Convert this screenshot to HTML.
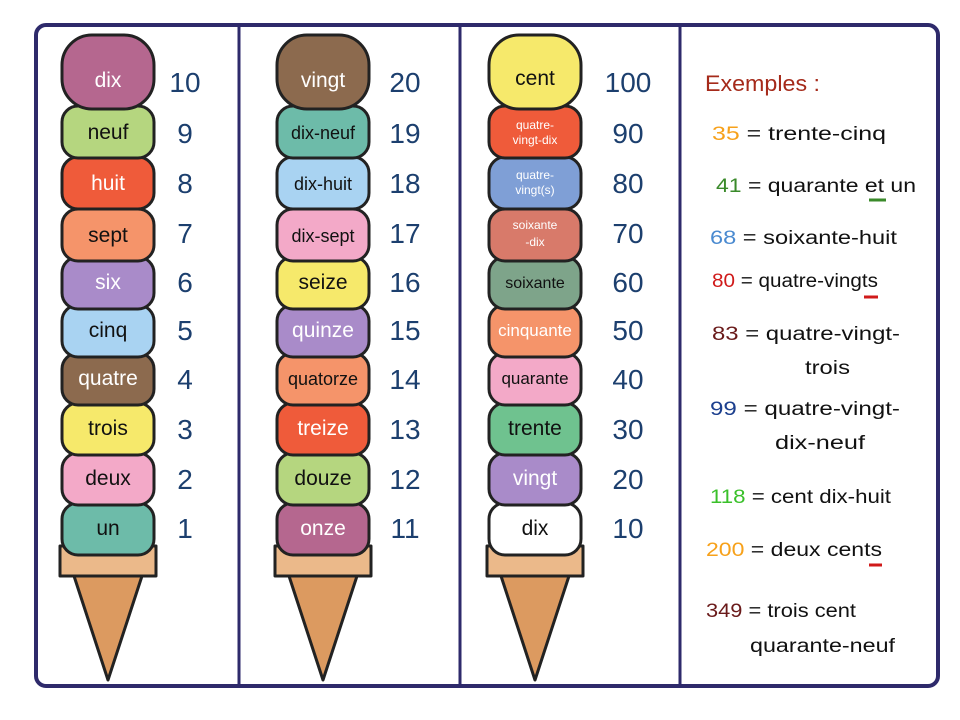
<!DOCTYPE html>
<html><head><meta charset="utf-8"><style>
html,body{margin:0;padding:0;background:#fff;}
svg{display:block;}
text{font-family:"Liberation Sans",sans-serif;}
</style></head><body>
<svg width="960" height="720" viewBox="0 0 960 720" xmlns="http://www.w3.org/2000/svg">
<rect x="0" y="0" width="960" height="720" fill="#fff"/>
<rect x="36" y="25" width="902" height="661" rx="10" fill="#fff" stroke="#2e2a6b" stroke-width="4"/>
<line x1="239" y1="25" x2="239" y2="686" stroke="#2e2a6b" stroke-width="3"/>
<line x1="460" y1="25" x2="460" y2="686" stroke="#2e2a6b" stroke-width="3"/>
<line x1="680" y1="25" x2="680" y2="686" stroke="#2e2a6b" stroke-width="3"/>

<g id="cones" stroke="#222" stroke-width="3" stroke-linejoin="round">
<polygon points="74,576 142,576 108,680" fill="#dc9a60"/>
<rect x="60" y="546" width="96" height="30" fill="#ebb98a"/>
<polygon points="289,576 357,576 323,680" fill="#dc9a60"/>
<rect x="275" y="546" width="96" height="30" fill="#ebb98a"/>
<polygon points="501,576 569,576 535,680" fill="#dc9a60"/>
<rect x="487" y="546" width="96" height="30" fill="#ebb98a"/>
</g>

<g stroke="#222" stroke-width="3">
<rect x="62" y="503" width="92" height="52" rx="16" fill="#6dbba9"/>
<rect x="62" y="453" width="92" height="52" rx="16" fill="#f3a9c8"/>
<rect x="62" y="403" width="92" height="52" rx="16" fill="#f6e96b"/>
<rect x="62" y="353" width="92" height="52" rx="16" fill="#8c6a4e"/>
<rect x="62" y="305" width="92" height="52" rx="16" fill="#a9d3f2"/>
<rect x="62" y="257" width="92" height="52" rx="16" fill="#a98bc9"/>
<rect x="62" y="209" width="92" height="52" rx="16" fill="#f5946a"/>
<rect x="62" y="157" width="92" height="52" rx="16" fill="#ef5b3a"/>
<rect x="62" y="106" width="92" height="52" rx="16" fill="#b5d67f"/>
<rect x="62" y="35" width="92" height="74" rx="30" fill="#b5678f"/>
<rect x="277" y="503" width="92" height="52" rx="16" fill="#b5678f"/>
<rect x="277" y="453" width="92" height="52" rx="16" fill="#b5d67f"/>
<rect x="277" y="403" width="92" height="52" rx="16" fill="#ef5b3a"/>
<rect x="277" y="353" width="92" height="52" rx="16" fill="#f5946a"/>
<rect x="277" y="305" width="92" height="52" rx="16" fill="#a98bc9"/>
<rect x="277" y="257" width="92" height="52" rx="16" fill="#f6e96b"/>
<rect x="277" y="209" width="92" height="52" rx="16" fill="#f3a9c8"/>
<rect x="277" y="157" width="92" height="52" rx="16" fill="#a9d3f2"/>
<rect x="277" y="106" width="92" height="52" rx="16" fill="#6dbba9"/>
<rect x="277" y="35" width="92" height="74" rx="30" fill="#8c6a4e"/>
<rect x="489" y="503" width="92" height="52" rx="16" fill="#ffffff"/>
<rect x="489" y="453" width="92" height="52" rx="16" fill="#a98bc9"/>
<rect x="489" y="403" width="92" height="52" rx="16" fill="#6fc28f"/>
<rect x="489" y="353" width="92" height="52" rx="16" fill="#f3a9c8"/>
<rect x="489" y="305" width="92" height="52" rx="16" fill="#f5946a"/>
<rect x="489" y="257" width="92" height="52" rx="16" fill="#7ea48a"/>
<rect x="489" y="209" width="92" height="52" rx="16" fill="#d87a6a"/>
<rect x="489" y="157" width="92" height="52" rx="16" fill="#7f9fd6"/>
<rect x="489" y="106" width="92" height="52" rx="16" fill="#ef5b3a"/>
<rect x="489" y="35" width="92" height="74" rx="30" fill="#f6e96b"/>
</g>

<g font-size="21" text-anchor="middle">
<text x="108" y="87" fill="#fff">dix</text>
<text x="108" y="139" fill="#111">neuf</text>
<text x="108" y="190" fill="#fff">huit</text>
<text x="108" y="242" fill="#111">sept</text>
<text x="108" y="289" fill="#fff">six</text>
<text x="108" y="337" fill="#111">cinq</text>
<text x="108" y="385" fill="#fff">quatre</text>
<text x="108" y="435" fill="#111">trois</text>
<text x="108" y="485" fill="#111">deux</text>
<text x="108" y="535" fill="#111">un</text>

<text x="323" y="87" fill="#fff">vingt</text>
<text x="323" y="139" fill="#111" font-size="18">dix-neuf</text>
<text x="323" y="190" fill="#111" font-size="18">dix-huit</text>
<text x="323" y="242" fill="#111" font-size="18">dix-sept</text>
<text x="323" y="289" fill="#111">seize</text>
<text x="323" y="337" fill="#fff">quinze</text>
<text x="323" y="385" fill="#111" font-size="18">quatorze</text>
<text x="323" y="435" fill="#fff">treize</text>
<text x="323" y="485" fill="#111">douze</text>
<text x="323" y="535" fill="#fff">onze</text>

<text x="535" y="85" fill="#111">cent</text>
<text x="535" y="129" fill="#fff" font-size="12">quatre-</text>
<text x="535" y="144" fill="#fff" font-size="12">vingt-dix</text>
<text x="535" y="179" fill="#fff" font-size="12">quatre-</text>
<text x="535" y="194" fill="#fff" font-size="12">vingt(s)</text>
<text x="535" y="229" fill="#fff" font-size="12">soixante</text>
<text x="535" y="246" fill="#fff" font-size="12">-dix</text>
<text x="535" y="288" fill="#111" font-size="16">soixante</text>
<text x="535" y="336" fill="#fff" font-size="17">cinquante</text>
<text x="535" y="384" fill="#111" font-size="17">quarante</text>
<text x="535" y="435" fill="#111">trente</text>
<text x="535" y="485" fill="#fff">vingt</text>
<text x="535" y="535" fill="#111">dix</text>
</g>

<g font-size="28" fill="#1c3f6e" text-anchor="middle">
<text x="185" y="92">10</text><text x="185" y="143">9</text><text x="185" y="193">8</text><text x="185" y="243">7</text><text x="185" y="292">6</text><text x="185" y="340">5</text><text x="185" y="389">4</text><text x="185" y="439">3</text><text x="185" y="489">2</text><text x="185" y="538">1</text>
<text x="405" y="92">20</text><text x="405" y="143">19</text><text x="405" y="193">18</text><text x="405" y="243">17</text><text x="405" y="292">16</text><text x="405" y="340">15</text><text x="405" y="389">14</text><text x="405" y="439">13</text><text x="405" y="489">12</text><text x="405" y="538">11</text>
<text x="628" y="92">100</text><text x="628" y="143">90</text><text x="628" y="193">80</text><text x="628" y="243">70</text><text x="628" y="292">60</text><text x="628" y="340">50</text><text x="628" y="389">40</text><text x="628" y="439">30</text><text x="628" y="489">20</text><text x="628" y="538">10</text>
</g>

<g font-size="19" fill="#111">
<text x="705" y="91" fill="#a52a1a" font-size="22" textLength="115" lengthAdjust="spacingAndGlyphs">Exemples :</text>
<text x="712" y="140" textLength="174" lengthAdjust="spacingAndGlyphs"><tspan fill="#f7a11a">35</tspan> = trente-cinq</text>
<text x="716" y="192" textLength="200" lengthAdjust="spacingAndGlyphs"><tspan fill="#3a8a2a">41</tspan> = quarante et un</text>
<line x1="869" y1="200" x2="886" y2="200" stroke="#3a8a2a" stroke-width="3"/>
<text x="710" y="244" textLength="187" lengthAdjust="spacingAndGlyphs"><tspan fill="#4a8ad0">68</tspan> = soixante-huit</text>
<text x="712" y="287" textLength="166" lengthAdjust="spacingAndGlyphs"><tspan fill="#d01a1a">80</tspan> = quatre-vingts</text>
<line x1="864" y1="297" x2="878" y2="297" stroke="#d01a1a" stroke-width="3"/>
<text x="712" y="340" textLength="188" lengthAdjust="spacingAndGlyphs"><tspan fill="#6a1a1a">83</tspan> = quatre-vingt-</text>
<text x="805" y="374" textLength="45" lengthAdjust="spacingAndGlyphs">trois</text>
<text x="710" y="415" textLength="190" lengthAdjust="spacingAndGlyphs"><tspan fill="#1c3f8e">99</tspan> = quatre-vingt-</text>
<text x="775" y="449" textLength="90" lengthAdjust="spacingAndGlyphs">dix-neuf</text>
<text x="710" y="503" textLength="181" lengthAdjust="spacingAndGlyphs"><tspan fill="#3ac02a">118</tspan> = cent dix-huit</text>
<text x="706" y="556" textLength="176" lengthAdjust="spacingAndGlyphs"><tspan fill="#f7a11a">200</tspan> = deux cents</text>
<line x1="869" y1="565" x2="882" y2="565" stroke="#d01a1a" stroke-width="3"/>
<text x="706" y="617" textLength="150" lengthAdjust="spacingAndGlyphs"><tspan fill="#6a1a1a">349</tspan> = trois cent</text>
<text x="750" y="652" textLength="145" lengthAdjust="spacingAndGlyphs">quarante-neuf</text>
</g>
</svg>
</body></html>
